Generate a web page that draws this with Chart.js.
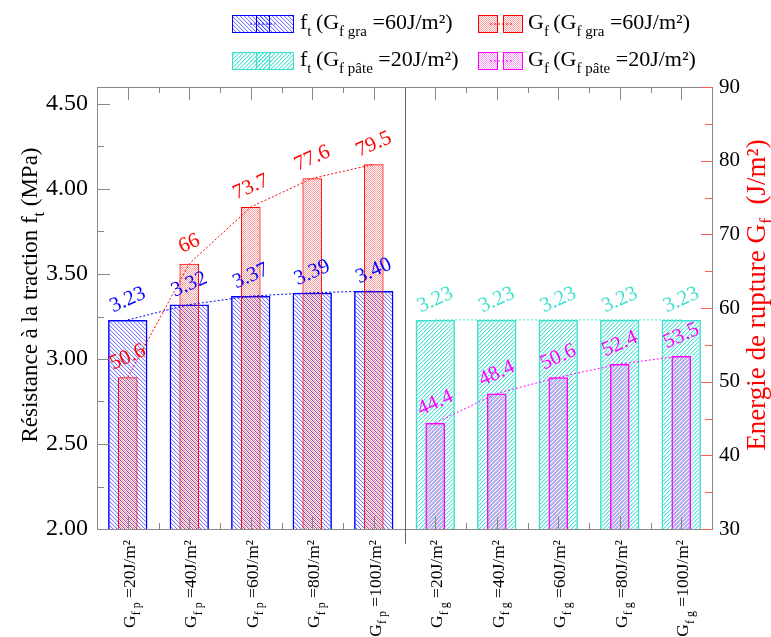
<!DOCTYPE html>
<html lang="fr">
<head>
<meta charset="utf-8">
<title>Résistance à la traction et énergie de rupture</title>
<script src="https://cdn.jsdelivr.net/npm/chart.js@4.4.1/dist/chart.umd.min.js"></script>
<style>
  html, body { margin: 0; padding: 0; background: #fff; }
</style>
</head>
<body>
<canvas id="graphe" width="771" height="637"></canvas>
<script>
// Données
const categories = ['Gfp20', 'Gfp40', 'Gfp60', 'Gfp80', 'Gfp100', 'Gfg20', 'Gfg40', 'Gfg60', 'Gfg80', 'Gfg100'];
const indicesCat = ['f p', 'f p', 'f p', 'f p', 'f p', 'f g', 'f g', 'f g', 'f g', 'f g'];
const valeursCat = ['=20J/m²', '=40J/m²', '=60J/m²', '=80J/m²', '=100J/m²', '=20J/m²', '=40J/m²', '=60J/m²', '=80J/m²', '=100J/m²'];

const ftGra  = [3.23, 3.32, 3.37, 3.39, 3.40, null, null, null, null, null];
const ftPate = [null, null, null, null, null, 3.23, 3.23, 3.23, 3.23, 3.23];
const gfGra  = [50.6, 66, 73.7, 77.6, 79.5, null, null, null, null, null];
const gfPate = [null, null, null, null, null, 44.4, 48.4, 50.6, 52.4, 53.5];

const ticksFt = [2.00, 2.50, 3.00, 3.50, 4.00, 4.50];
const ticksGf = [30, 40, 50, 60, 70, 80, 90];

const POLICE = "'Liberation Serif', 'Times New Roman', serif";
const BLEU = '#0000ff';
const ROUGE = '#ff0000';
const TURQ = '#40e0d0';
const MAGENTA = '#ff00ff';

// petits motifs de hachures (lignes obliques ou damier)
function motif(couleur, halo, type) {
    const c = document.createElement('canvas');
    c.width = 4;
    c.height = 4;
    const g = c.getContext('2d');
    for (let i = 0; i < 4; i++) {
        if (type == 'desc') {
            g.fillStyle = couleur;
            g.fillRect(i, i, 1, 1);
            g.fillStyle = halo;
            g.fillRect((i + 1) % 4, i, 1, 1);
        } else if (type == 'asc') {
            g.fillStyle = couleur;
            g.fillRect(3 - i, i, 1, 1);
            g.fillStyle = halo;
            g.fillRect((4 - i) % 4, i, 1, 1);
        } else {
            g.fillStyle = couleur;
            g.fillRect(i, i % 2, 1, 1);
            g.fillRect(i, 2 + i % 2, 1, 1);
        }
    }
    return g.createPattern(c, 'repeat');
}

const motifBleu = motif('rgba(40,40,255,0.6)', 'rgba(40,40,255,0.15)', 'desc');
const motifTurq = motif('rgba(64,224,208,0.85)', 'rgba(64,224,208,0.4)', 'asc');
const motifRouge = motif('rgba(255,0,0,0.38)', null, 'damier');
const motifMagenta = motif('rgba(255,0,255,0.38)', null, 'damier');

// texte avec indices : morceaux = [[texte, estIndice], ...]
function texteRiche(ctx, morceaux, x, y, taille, aligne) {
    const petite = Math.round(taille * 0.68);
    let largeur = 0;
    const mesures = morceaux.map(m => {
        ctx.font = (m[1] ? petite : taille) + 'px ' + POLICE;
        const l = ctx.measureText(m[0]).width;
        largeur += l;
        return l;
    });
    let cx = x;
    if (aligne == 'center') cx -= largeur / 2;
    if (aligne == 'right') cx -= largeur;
    ctx.textAlign = 'left';
    ctx.textBaseline = 'alphabetic';
    morceaux.forEach((m, i) => {
        ctx.font = (m[1] ? petite : taille) + 'px ' + POLICE;
        ctx.fillText(m[0], cx, m[1] ? y + taille * 0.3 : y);
        cx += mesures[i];
    });
}

function tiret(ctx, x1, x2, y, couleur) {
    ctx.save();
    ctx.strokeStyle = couleur;
    ctx.lineWidth = 1;
    ctx.setLineDash([2, 2]);
    ctx.beginPath();
    ctx.moveTo(x1, y);
    ctx.lineTo(x2, y);
    ctx.stroke();
    ctx.restore();
}

function caseLarge(ctx, x, y, fond, couleur) {
    ctx.fillStyle = fond;
    ctx.fillRect(x, y, 61, 17);
    ctx.fillRect(x + 24, y, 13, 17);
    ctx.strokeStyle = couleur;
    ctx.lineWidth = 1;
    ctx.strokeRect(x + 0.5, y + 0.5, 61, 17);
    ctx.strokeRect(x + 24.5, y + 0.5, 13, 17);
    tiret(ctx, x + 18, x + 43, y + 9, couleur);
}

function casesEtroites(ctx, x, y, fond, couleur) {
    ctx.fillStyle = fond;
    ctx.fillRect(x, y, 19, 17);
    ctx.fillRect(x + 25, y, 19, 17);
    ctx.strokeStyle = couleur;
    ctx.lineWidth = 1;
    ctx.strokeRect(x + 0.5, y + 0.5, 19, 17);
    ctx.strokeRect(x + 25.5, y + 0.5, 19, 17);
    tiret(ctx, x + 12, x + 35, y + 9, couleur);
}

const decor = {
    id: 'decor',
    afterDatasetsDraw(chart) {
        // valeurs inclinées au-dessus des points
        const ctx = chart.ctx;
        chart.data.datasets.forEach((ds, i) => {
            if (ds.type != 'line') return;
            const meta = chart.getDatasetMeta(i);
            meta.data.forEach((pt, j) => {
                const v = ds.data[j];
                if (v == null) return;
                ctx.save();
                ctx.translate(pt.x, pt.y - 20);
                ctx.rotate(-24 * Math.PI / 180);
                ctx.font = '21px ' + POLICE;
                ctx.fillStyle = ds.borderColor;
                ctx.textAlign = 'center';
                ctx.textBaseline = 'middle';
                ctx.fillText(ds.etiquette(v), 0, 0);
                ctx.restore();
            });
        });
    },
    afterDraw(chart) {
        const ctx = chart.ctx;
        const a = chart.chartArea;
        const sx = chart.scales.x;
        const yFt = chart.scales.yFt;
        const yGf = chart.scales.yGf;

        ctx.save();
        ctx.lineWidth = 1;

        // cadre
        ctx.strokeStyle = '#888';
        ctx.strokeRect(a.left + 0.5, a.top + 0.5, a.right - a.left, a.bottom - a.top);

        // graduations gauche
        ctx.beginPath();
        ticksFt.forEach((v, k) => {
            let y = Math.round(yFt.getPixelForValue(v)) + 0.5;
            ctx.moveTo(a.left, y);
            ctx.lineTo(a.left + 13, y);
            if (k < ticksFt.length - 1) {
                y = Math.round(yFt.getPixelForValue(v + 0.25)) + 0.5;
                ctx.moveTo(a.left, y);
                ctx.lineTo(a.left + 7, y);
            }
        });
        // graduations haut et bas
        for (let i = 0; i < categories.length; i++) {
            const x = Math.round(sx.getPixelForValue(i)) + 0.5;
            ctx.moveTo(x, a.bottom);
            ctx.lineTo(x, a.bottom - 12);
            ctx.moveTo(x, a.top);
            ctx.lineTo(x, a.top + 13);
            if (i > 0) {
                const xm = Math.round((sx.getPixelForValue(i - 1) + sx.getPixelForValue(i)) / 2) + 0.5;
                ctx.moveTo(xm, a.bottom);
                ctx.lineTo(xm, a.bottom - 6);
                ctx.moveTo(xm, a.top);
                ctx.lineTo(xm, a.top + 6);
            }
        }
        ctx.stroke();

        // graduations droite (rouges)
        ctx.strokeStyle = '#ff5a5a';
        ctx.beginPath();
        ticksGf.forEach((v, k) => {
            let y = Math.round(yGf.getPixelForValue(v)) + 0.5;
            ctx.moveTo(a.right, y);
            ctx.lineTo(a.right - 11, y);
            if (k < ticksGf.length - 1) {
                y = Math.round(yGf.getPixelForValue(v + 5)) + 0.5;
                ctx.moveTo(a.right, y);
                ctx.lineTo(a.right - 7, y);
            }
        });
        ctx.stroke();

        // séparation des deux groupes
        const xSep = Math.round((sx.getPixelForValue(4) + sx.getPixelForValue(5)) / 2) + 0.5;
        ctx.strokeStyle = '#666';
        ctx.beginPath();
        ctx.moveTo(xSep, a.top);
        ctx.lineTo(xSep, a.bottom + 15);
        ctx.stroke();

        // étiquettes de l'axe x
        ctx.fillStyle = '#000';
        for (let i = 0; i < categories.length; i++) {
            const x = sx.getPixelForValue(i);
            ctx.save();
            ctx.translate(x + 7, a.bottom + 11);
            ctx.rotate(-Math.PI / 2);
            texteRiche(ctx, [['G', 0], [indicesCat[i], 1], [' ' + valeursCat[i], 0]], 0, 0, 17.5, 'right');
            ctx.restore();
        }

        // titres des axes
        ctx.save();
        ctx.translate(37, 295);
        ctx.rotate(-Math.PI / 2);
        ctx.fillStyle = '#000';
        texteRiche(ctx, [['Résistance à la traction f', 0], ['t', 1], [' (MPa)', 0]], 0, 0, 23, 'center');
        ctx.restore();

        ctx.save();
        ctx.translate(765, 295);
        ctx.rotate(-Math.PI / 2);
        ctx.fillStyle = ROUGE;
        texteRiche(ctx, [['Energie de rupture G', 0], ['f', 1], ['  (J/m²)', 0]], 0, 0, 27, 'center');
        ctx.restore();

        // légende
        caseLarge(ctx, 232, 15, motifBleu, BLEU);
        casesEtroites(ctx, 478, 15, motifRouge, ROUGE);
        caseLarge(ctx, 232, 52, motifTurq, TURQ);
        casesEtroites(ctx, 478, 52, motifMagenta, MAGENTA);
        ctx.fillStyle = '#000';
        texteRiche(ctx, [['f', 0], ['t', 1], ['\u2009(G', 0], ['f gra', 1], [' =60J/m²)', 0]], 300, 29, 22, 'left');
        texteRiche(ctx, [['G', 0], ['f', 1], ['\u2009(G', 0], ['f gra', 1], [' =60J/m²)', 0]], 528, 29, 22, 'left');
        texteRiche(ctx, [['f', 0], ['t', 1], ['\u2009(G', 0], ['f pâte', 1], [' =20J/m²)', 0]], 300, 66, 22, 'left');
        texteRiche(ctx, [['G', 0], ['f', 1], ['\u2009(G', 0], ['f pâte', 1], [' =20J/m²)', 0]], 528, 66, 22, 'left');

        ctx.restore();
    }
};

const ctx = document.getElementById('graphe').getContext('2d');
new Chart(ctx, {
    data: {
        labels: categories,
        datasets: [
            {
                type: 'bar', label: 'ft gra', data: ftGra, yAxisID: 'yFt',
                backgroundColor: motifBleu, borderColor: BLEU, borderWidth: 1.5,
                barPercentage: 0.64, categoryPercentage: 1, grouped: false, order: 4
            },
            {
                type: 'bar', label: 'ft pate', data: ftPate, yAxisID: 'yFt',
                backgroundColor: motifTurq, borderColor: TURQ, borderWidth: 1.5,
                barPercentage: 0.64, categoryPercentage: 1, grouped: false, order: 4
            },
            {
                type: 'bar', label: 'Gf gra', data: gfGra, yAxisID: 'yGf',
                backgroundColor: motifRouge, borderColor: ROUGE, borderWidth: 1,
                barPercentage: 0.32, categoryPercentage: 1, grouped: false, order: 3
            },
            {
                type: 'bar', label: 'Gf pate', data: gfPate, yAxisID: 'yGf',
                backgroundColor: motifMagenta, borderColor: MAGENTA, borderWidth: 1.5,
                barPercentage: 0.32, categoryPercentage: 1, grouped: false, order: 3
            },
            {
                type: 'line', label: 'ft gra', data: ftGra, yAxisID: 'yFt',
                borderColor: BLEU, borderWidth: 1, borderDash: [2, 2], pointRadius: 0, order: 1,
                etiquette: v => v.toFixed(2)
            },
            {
                type: 'line', label: 'ft pate', data: ftPate, yAxisID: 'yFt',
                borderColor: TURQ, borderWidth: 1, borderDash: [2, 2], pointRadius: 0, order: 1,
                etiquette: v => v.toFixed(2)
            },
            {
                type: 'line', label: 'Gf gra', data: gfGra, yAxisID: 'yGf',
                borderColor: ROUGE, borderWidth: 1, borderDash: [2, 2], pointRadius: 0, order: 1,
                etiquette: v => String(v)
            },
            {
                type: 'line', label: 'Gf pate', data: gfPate, yAxisID: 'yGf',
                borderColor: MAGENTA, borderWidth: 1, borderDash: [2, 2], pointRadius: 0, order: 1,
                etiquette: v => String(v)
            }
        ]
    },
    options: {
        responsive: false,
        animation: false,
        layout: { padding: { top: 87 } },
        plugins: {
            legend: { display: false },
            tooltip: { enabled: false }
        },
        scales: {
            x: {
                type: 'category',
                offset: true,
                grid: { display: false, drawTicks: false },
                border: { display: false },
                ticks: { display: false },
                afterFit: s => { s.height = 108; }
            },
            yFt: {
                position: 'left',
                min: 2,
                max: 4.6,
                grid: { display: false, drawTicks: false },
                border: { display: false },
                ticks: {
                    color: '#000',
                    padding: 9,
                    font: { family: POLICE, size: 24 },
                    callback: v => Number(v).toFixed(2)
                },
                afterBuildTicks: s => { s.ticks = ticksFt.map(v => ({ value: v })); },
                afterFit: s => { s.width = 97; }
            },
            yGf: {
                position: 'right',
                min: 30,
                max: 90,
                grid: { display: false, drawTicks: false },
                border: { display: false },
                ticks: {
                    color: '#000',
                    padding: 7,
                    font: { family: POLICE, size: 21 },
                    callback: v => String(v)
                },
                afterBuildTicks: s => { s.ticks = ticksGf.map(v => ({ value: v })); },
                afterFit: s => { s.width = 59; }
            }
        }
    },
    plugins: [decor]
});
</script>
</body>
</html>
